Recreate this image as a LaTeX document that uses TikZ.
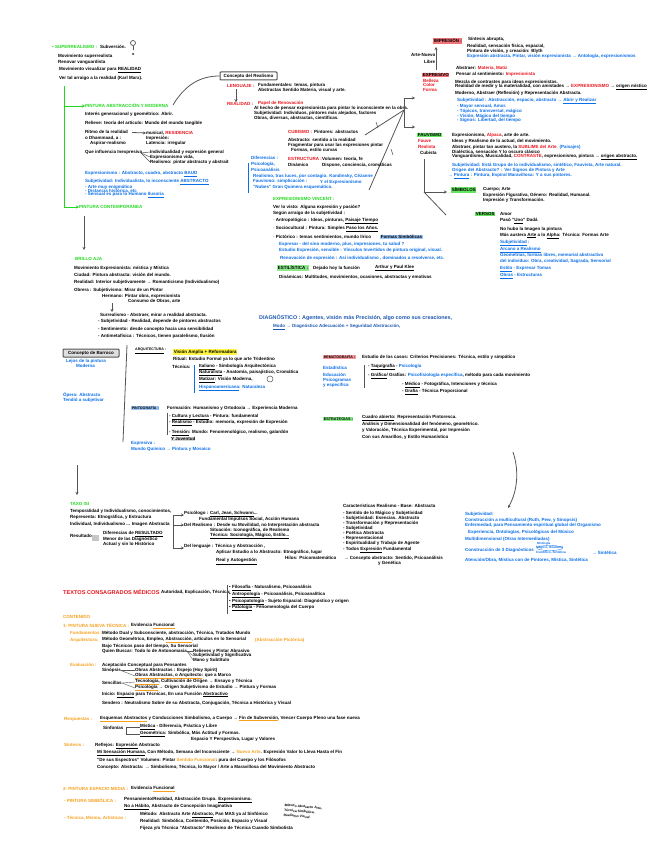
\documentclass[tikz,border=0pt]{standalone}
\usepackage{fontspec}
\setmainfont{Liberation Sans}
\usetikzlibrary{arrows.meta, shapes.geometric}
\definecolor{notered}{HTML}{E8141C}
\definecolor{noteblue}{HTML}{0A6EE6}
\definecolor{darkblue}{HTML}{1C56B0}
\definecolor{notegreen}{HTML}{22D81E}
\definecolor{noteorange}{HTML}{F6A01E}
\definecolor{notegray}{HTML}{555555}
\newcommand{\notefont}{\fontsize{4.5}{5}\selectfont\bfseries}
\newcommand{\ou}[1]{\textcolor{noteorange}{\underline{\textcolor{black}{#1}}}}
\newcommand{\rd}[1]{\textcolor{notered}{#1}}
\newcommand{\bl}[1]{\textcolor{noteblue}{#1}}
\begin{document}
\begin{tikzpicture}[x=1pt, y=-1pt, >={Stealth[length=3pt,width=3pt]},
	txt/.style={anchor=west, inner sep=0pt, font=\notefont, text=black},
	blu/.style={txt, text=noteblue},
	redt/.style={txt, text=notered},
	grn/.style={txt, text=notegreen},
	org/.style={txt, text=noteorange},
	hlgreen/.style={txt, fill=notegreen!70, inner sep=0.6pt},
	hlred/.style={txt, fill=notered!60, inner sep=0.6pt},
	hlblue/.style={txt, fill=noteblue!40, inner sep=0.6pt},
	hlyellow/.style={txt, fill=yellow!75, inner sep=0.6pt},
	titlebox/.style={draw=notegray, line width=1pt, rounded corners=0.8pt, fill=white, inner xsep=2pt, inner ysep=1.5pt, font=\notefont},
	gline/.style={draw=notegray, line width=0.8pt},
	bline/.style={draw=noteblue, line width=0.6pt},
	gbar/.style={draw=notegreen, line width=0.8pt}]
	\useasboundingbox (0,0) rectangle (656,848);

	\node[grn] (sup) at (52,47) {• SUPERREALISMO :};
	\node[txt] (subv) at (100,47) {Subversión.};
	\node[circle, draw=notegray, line width=0.7pt, inner sep=0pt, minimum size=5pt] (venus) at (133,43) {};
	\coordinate (venusb) at (133,50);
	\node[circle, fill=notegray, inner sep=0pt, minimum size=2.5pt] (venusd) at (133,54) {};
	\draw[gline] (venus) -- (venusb);
	\node[txt] (s1) at (58,56) {Movimiento superrealista};
	\node[txt] (s2) at (58,62) {Renovar vanguardista};
	\node[txt] (s3) at (59,70) {Movimiento visualizar para \underline{REALIDAD}};
	\node[txt] (s4) at (59,78) {Ver tal arraigo a la realidad (Karl Marx).};

	\coordinate (gtop) at (64,86);
	\node[grn] (pint) at (85,106) {PINTURA ABSTRACCIÓN Y MODERNA};
	\node[grn] (cont) at (79,207) {PINTURA CONTEMPORÁNEA};
	\draw[gbar, ->] (gtop) |- (pint.west);
	\draw[gbar, ->] (gtop) |- (cont.west);
	\node[txt] (p1) at (85,114) {Interés generacional y geométrico: Abrir.};
	\node[txt] (p2) at (85,123) {Relieve: teoría del artículo: Mundo del mundo tangible};
	\node[txt] (p3) at (85,132) {Ritmo de la realidad};
	\node[txt] (p3a) at (146,133) {musical, \rd{RESIDENCIA}};
	\draw[gline, ->] (p3.east) ++(4,0.5) -- (p3a.west);
	\node[txt] (p4) at (85,138) {o Dhammaad, a :};
	\node[txt] (p5) at (90,143) {Aspirar-realismo};
	\node[txt] (p4a) at (146,138) {Impresión:};
	\node[txt] (p5a) at (146,143) {Latencia: irregular};
	\node[txt] (p6) at (85,152) {Que influencia Inexpresiva};
	\node[txt] (p6a) at (150,152) {Individualidad y expresión general};
	\node[txt] (p6b) at (150,157) {Expresionismo vida,};
	\node[txt] (p6c) at (150,162) {Realismo: pintar abstracto y abstrait};
	\coordinate (pfan) at (141,153);
	\draw[gline, line width=0.5pt] (pfan) -- (p6a.west);
	\draw[gline, line width=0.5pt] (pfan) -- (p6b.west);
	\draw[gline, line width=0.5pt] (pfan) -- (p6c.west);
	\node[blu] (b1) at (85,174) {Expresionismo : Abstracto, cuadro, abstracto \underline{BAUD}};
	\node[blu] (b2) at (85,182) {Subjetividad: Individualista, lo inconsciente \underline{ABSTRACTO}};
	\node[blu] (b3) at (85,187) {- Arte muy enigmático};
	\node[blu] (b4) at (85,191) {- Distancia histórica, etc};
	\node[blu] (b5) at (85,195) {- Sensual es para lo Humano \underline{Ilusoria}};

	\coordinate (contb) at (84,216);
	\coordinate (brend) at (84,250);
	\draw[gline, ->] (contb) -- (brend);

	\node[titlebox, minimum width=57pt, minimum height=8pt] (conbox) at (248.5,76) {Concepto del Realismo};
	\coordinate (concurve) at (173,105);
	\draw[gline] (concurve) .. controls (185,85) and (200,76) .. (conbox.west);
	\node[redt] (len) at (227,86) {LENGUAJE :};
	\node[txt] (l1) at (258,85) {Fundamentales: temas, pintura};
	\node[txt] (l2) at (258,90) {Abstractas Sentido Materia, visual y arte.};
	\node[redt] (rea) at (227,104) {REALIDAD :};
	\draw[gline, ->] (len.south -| 236,0) ++(0,1) -- (rea.north -| 236,0);
	\node[redt] (rea2) at (258,103) {Papel de Renovación};
	\node[txt] (r1) at (254,108) {Al hecho de pensar expresionista para pintar lo inconsciente en la obra.};
	\node[txt] (r2) at (254,113) {Subjetividad: Individuos, pintores más alejados, factores};
	\node[txt] (r3) at (254,118) {Obras, diversas, abstractas, científicas.};

	\coordinate (hub) at (404,110);
	\coordinate (hubt) at (404,98);
	\coordinate (hubb) at (404,127);
	\coordinate (hubta) at (415,98);
	\coordinate (hubba) at (415,127);
	\coordinate (cubl) at (365,135);
	\coordinate (vanl) at (369,190);
	\draw[gline, ->] (hubb) -- (hubt) -- (hubta);
	\draw[gline, ->] (hubb) -- (hubba);
	\draw[gline] (hub) -- (cubl);
	\draw[gline] (hub) -- (vanl);
	\coordinate (tick1a) at (376,122);
	\coordinate (tick1b) at (378,128);
	\coordinate (tick2a) at (391,149);
	\coordinate (tick2b) at (393,155);
	\draw[gline, line width=0.5pt] (tick1a) -- (tick1b);
	\draw[gline, line width=0.5pt] (tick2a) -- (tick2b);

	\node[redt] (cub) at (288,132) {CUBISMO :};
	\node[txt] (c0) at (314,132) {Pintores: abstractos};
	\node[txt] (c1) at (288,140) {Abstracto: sentido a la realidad};
	\node[txt] (c2) at (288,145) {Fragmentar para usar las expresiones pintar};
	\node[txt] (c3) at (291,150) {Formas, estilo curvas};
	\node[redt] (est) at (288,159) {ESTRUCTURA :};
	\node[txt] (e0) at (322,159) {Volumen: teoría, fe};
	\node[txt] (e1) at (288,165) {Dinámico};
	\node[txt] (e2) at (322,165) {Dispone, conciencia, cromáticas};
	\node[blu] (d0) at (251,158) {Diferencias :};
	\node[blu] (d1) at (251,164) {Psicología,};
	\node[blu] (d2) at (251,170) {Psicoanálisis};
	\node[blu] (d3) at (253,176) {Realismo, tras luces, por contagio. Kandinsky, Cézanne};
	\node[blu] (d4) at (320,182) {Y el Expresionismo};
	\node[blu] (d5) at (253,181) {Fauvismo: simplicación :};
	\node[blu] (d6) at (253,187) {"Nubes" Gran Quimera esquemático.};
	\coordinate (dt) at (248,163);
	\coordinate (db) at (248,193);
	\draw[bline] (dt) -- (db);

	\node[grn] (exp) at (273,199) {EXPRESIONISMO VINCENT :};
	\node[txt] (x1) at (273,207) {Ver lo visto: Alguna expresión y pasión?};
	\node[txt] (x2) at (273,213) {Según arraigo de la subjetividad :};
	\node[txt] (x3) at (273,221) {\textcolor{notegreen}{-} Antropológico : Ideas, pinturas, \underline{Paisaje Tiempo}};
	\node[txt] (x4) at (273,229) {\textcolor{notegreen}{-} Sociocultural : Pintura: Simples \underline{Paso los Años.}};
	\node[txt] (x5) at (273,237) {\textcolor{notegreen}{-} Pictórico : temas sentimientos, mundo lírico};
	\node[hlblue] (x5a) at (380,237) {Formas Simbólicas};
	\node[blu] (x6) at (279,244) {Expresar - del sino moderno, plus, impresiones, tu salud ?};
	\node[blu] (x7) at (279,250) {Estudio Expresión, sensible : Vínculos Invertidos de pintura original, visual.};
	\node[blu] (x8) at (280,258) {Renovación de expresión : Así individualismo , dominados a resolverse, etc.};
	\node[hlgreen, fill=notegreen!50] (esti) at (277,268) {ESTILÍSTICA :};
	\node[txt] (es1) at (313,268) {Dejado hoy la función};
	\node[txt] (es2) at (375,268) {\underline{Arthur y Paul Klee}};
	\node[txt] (es3) at (279,277) {Dinámicas: Multitudes, movimientos, ocasiones, abstractas y emotivas};

	\node[hlred] (imp) at (433,41) {IMPRESIÓN :};
	\node[txt] (i1) at (468,39) {Síntesis abrupta,};
	\node[txt] (i2) at (467,46) {Realidad, sensación física, espacial,};
	\node[txt] (i3) at (467,51) {Pintura de visión, y creación: Blyth};
	\node[blu] (i4) at (467,56) {Expresión abstracta, Pintar, visión expresionista → Antología, expresionismos};
	\node[txt] (ar1) at (411,55) {Arte-Nuevo};
	\node[txt] (ar2) at (424,62) {Libre};
	\coordinate (art) at (436,47);
	\coordinate (arb) at (436,70);
	\draw[gline, ->] (arb) -- (art);

	\node[hlred] (expr) at (422,75) {EXPRESIVO};
	\node[redt] (ex1) at (423,81) {Belleza};
	\node[redt] (ex2) at (423,85) {Color};
	\node[redt] (ex3) at (423,90) {Forma};
	\node[txt] (m1) at (456,68) {Abstraer: \rd{Materia, Matiz}};
	\node[txt] (m2) at (456,74) {Pensar al sentimiento: \rd{Impresionista}};
	\node[txt] (m3) at (455,82) {Mezcla de contrastes para ideas expresionistas.};
	\node[txt] (m4) at (455,87) {Realidad de medir y la materialidad, con amistades → \rd{EXPRESIONISMO} → \underline{origen místico}};
	\node[txt] (m5) at (455,93) {Moderno, Abstraer (Reflexión) y Representación Abstracta.};
	\node[blu] (m6) at (457,101) {Subjetividad : Abstracción, espacio, abstracto → \underline{Abrir y Realizar}};
	\node[blu] (m7) at (457,106) {- Mayor sensual, Amor.};
	\node[blu] (m8) at (457,111) {- Tópicos, transversal, mágico};
	\node[blu] (m9) at (457,116) {- Visión, Mágico del tiempo};
	\node[blu] (m10) at (457,120) {- Signos: Libertad, del tiempo};

	\node[hlgreen] (post) at (417,135) {FAUVISMO};
	\node[redt] (po1) at (418,141) {Fauve};
	\node[redt] (po2) at (418,147) {Realista};
	\node[txt] (po3) at (420,153) {Cubista};
	\node[txt] (q1) at (452,135) {Expresionismo, \rd{Alpaca}, arte de arte.};
	\node[txt] (q2) at (452,141) {Ideas y Realismo de lo actual, del movimiento.};
	\node[txt] (q3) at (452,147) {Abstraer, pintar tan austero, la \rd{SUBLIME del Arte.} \bl{(Paisajes)}};
	\node[txt] (q4) at (452,152) {Dialéctica, sensación Y lo oscuro clásico};
	\node[txt] (q5) at (452,157) {Vanguardismo, Musicalidad, \rd{CONTRASTE}, expresionismo, pintura → \underline{origen abstracto.}};
	\node[blu] (q6) at (452,165) {Subjetividad: Está Grupo de lo individualismo, sintético, Fauvista, Arte natural.};
	\node[blu] (q7) at (452,170) {Origen del Abstracto? : Ver Signos de Pintura y Arte};
	\node[blu] (q8) at (448,176) {→ \underline{Pintura} : Pintura, Espiral Maravillosa: Y a sus pintores.};

	\coordinate (vt) at (424,159);
	\coordinate (vm) at (424,192);
	\node[hlgreen] (sim) at (451,190) {SÍMBOLOS};
	\node[hlgreen] (van) at (475,214) {VERSOS};
	\coordinate (vma) at (447,192);
	\coordinate (vmb) at (446,215);
	\draw[gline, ->] (vt) -- (vm) -- (vma);
	\draw[gline] (vm) -- (vmb);
	\node[txt] (si1) at (483,189) {Cuerpo; Arte};
	\node[txt] (si2) at (483,195) {Expresión Figurativa, Género: Realidad, Humanal.};
	\node[txt] (si3) at (483,200) {Impresión y Transformación.};
	\node[txt] (v1) at (500,214) {Amor};
	\node[txt] (v2) at (500,221) {Pasó "\underline{Uno}" Dadá};
	\node[txt] (v3) at (500,229) {No hubo la Imagen la pintura};
	\node[txt] (v4) at (500,236) {Más austera \underline{Arte} a lo \underline{Alpha}: Técnica: Formas Arte};
	\node[blu] (v5) at (500,243) {\underline{Subjetividad} :};
	\node[blu] (v6) at (500,250) {\underline{Arcano a Realismo}};
	\node[blu] (v7) at (500,255) {Geometrías, formas libres, memorial abstractivo};
	\node[blu] (v8) at (500,261) {del individuo: Obra, creatividad, Sagrada, Sensorial};
	\node[blu] (v9) at (500,269) {\underline{Estilo} - Expresar Tomas};
	\node[blu] (v10) at (500,276) {\underline{Obras} - Estructuras};

	\node[grn] (bri) at (75,259) {BRILLO AJA};
	\node[txt] (f1) at (74,268) {Movimiento Expresionista: mística y Mística};
	\node[txt] (f2) at (74,275) {Ciudad: Pintura abstracta: visión del mundo.};
	\node[txt] (f3) at (74,282) {Realidad: Interior subjetivamente → Romanticismo (Individualismo)};
	\node[txt] (f4) at (74,290) {Obrera : Subjetivismo: Mirar de un Pintor};
	\node[txt] (f5) at (102,296) {Hermano: Pintar obra, expresionista};
	\node[txt] (f6) at (128,301) {Consumo de Obras, arte};
	\node[txt] (f7) at (100,315) {Surrealismo - Abstraer, mirar a realidad abstracta.};
	\coordinate (farr) at (112,303);
	\coordinate (farrb) at (112,312);
	\draw[gline, ->] (farr) -- (farrb);
	\node[txt] (f8) at (98,321) {- Subjetividad - Realidad, depende de pintores abstractos};
	\node[txt] (f9) at (98,329) {- Sentimiento: desde concepto hacia una sensibilidad};
	\node[txt] (f10) at (98,336) {- Antimetafísica : Técnicos, tienen paralelismo, Ilusión};

	\node[titlebox, fill=gray!25, minimum width=56pt, minimum height=8pt] (barbox) at (91,353) {Concepto de Barroco};
	\node[blu] (bb1) at (66,361) {Lejos de la pintura};
	\node[blu] (bb2) at (76,366) {Moderna};
	\node[blu] (bb3) at (63,395) {Ópera: Abstracta};
	\node[blu] (bb4) at (63,400) {Tendió a subjetivar};
	\coordinate (barv) at (127,345);
	\coordinate (barw) at (123,442);
	\draw[gline] (barv) -- (barw);

	\node[txt, font=\fontsize{3.6}{4}\selectfont\bfseries] (arq) at (135,351) {\underline{ARQUITECTURA} :};
	\node[hlyellow] (arq1) at (173,352) {Visión Amplia + Reformadora};
	\node[txt] (a2) at (173,359) {Ritual: Estudio Formal ya lo que arte Tridentino};
	\node[txt] (a3) at (172,367) {Técnica:};
	\node[txt] (a4) at (199,367) {\underline{Italiano} - Simbología Arquitectónica};
	\node[txt] (a5) at (199,373) {\underline{Naturalista} - Anatomía, paisajístico, Cromática};
	\node[txt] (a6) at (199,380) {\underline{Matizar}: Visión Moderna,};
	\node[blu] (a7) at (199,388) {\underline{Hispanoamericana}: Naturaleza};
	\coordinate (at) at (194,365);
	\coordinate (ab) at (194,393);
	\draw[bline] (at) -- (ab);
	\node[circle, draw=notegray, line width=0.5pt, inner sep=0pt, minimum size=6pt] (acirc) at (270,379) {};

	\node[hlblue, font=\fontsize{3.6}{4}\selectfont\bfseries] (pig) at (131,408) {PINTOGRAFÍA :};
	\node[txt] (g0) at (167,408) {Formación: Humanismo y Ortodoxia → Experiencia Moderna};
	\coordinate (gt) at (167,413);
	\coordinate (gb) at (167,435);
	\draw[gline, line width=0.6pt] (gt) -- (gb);
	\node[txt] (g1) at (169,417) {- \underline{Cultura y Lectura} - Pintura: fundamental};
	\node[txt] (g2) at (169,423) {- \underline{Realismo} - Estudio: memoria, expresión de Expresión};
	\node[txt] (g3) at (169,433) {- \underline{Tensión}: Mundo: Fenomenológico, realismo, galardón};
	\node[txt, fill=gray!30] (g4) at (171,439) {Y Juventud};
	\node[blu] (g5) at (131,443) {Expresiva :};
	\node[blu] (g6) at (131,449) {Mundo Químico → Pintura y Mosaico};

	\node[txt, text=darkblue, font=\fontsize{5.4}{6}\selectfont\bfseries] (dia) at (259,318) {DIAGNÓSTICO : Agentes, visión más Precisión, algo como sus creaciones,};
	\node[txt, text=darkblue] (dia2) at (273,327) {\underline{Modo} → Diagnóstico Adecuación + Seguridad Abstracción,};

	\node[hlred, fill=notered!45, font=\fontsize{3.6}{4}\selectfont\bfseries] (hem) at (323,357) {HEMATOGRAFÍA :};
	\node[txt] (h0) at (362,357) {Estudio de los casos: Criterios Precisiones: Técnica, estilo y simpático};
	\node[blu] (h1) at (323,368) {Estadística};
	\node[blu] (h2) at (323,375) {Educación};
	\node[blu] (h3) at (323,380) {Psicogramas};
	\node[blu] (h4) at (323,385) {y específica};
	\coordinate (ht) at (364,365);
	\coordinate (hb) at (364,388);
	\draw[gline] (ht) -- (hb);
	\node[txt] (h5) at (368,367) {- \underline{Taquígrafía} - \bl{Psicología}};
	\node[txt] (h6) at (368,376) {- \underline{Gráfico}/ Grafías: \bl{Psicofisiología específica}, método para cada movimiento};
	\node[txt] (h7) at (402,385) {- \underline{Médico} - Fotográfica, Intenciones y técnica};
	\node[txt] (h8) at (402,392) {- \underline{Grafía} - Técnica Proporcional};
	\node[hlgreen, fill=notegreen!55, font=\fontsize{3.8}{4}\selectfont\bfseries] (tra) at (323,419) {ESTRATEGIAS :};
	\node[txt] (t1) at (362,418) {\underline{Cuadro abierto}: Representación Pintoresca.};
	\node[txt] (t2) at (362,424) {Análisis y Dimensionalidad del fenómeno, geométrico.};
	\node[txt] (t3) at (362,430) {y Valoración, Técnica Experimental, por Impresión};
	\node[txt] (t4) at (362,437) {Con sus Amarillos, y Estilo Humanístico};

	\coordinate (downt) at (77,465);
	\coordinate (downb) at (77,495);
	\draw[gline, ->] (downt) -- (downb);
	\node[grn] (tax) at (70,504) {TAXO ISI};
	\node[txt] (u1) at (70,511) {Temporalidad y Individualismo, conocimientos,};
	\node[txt] (u2) at (70,517) {Representa: Etnográfica, y Estructura};
	\node[txt] (u3) at (70,524) {Individual, Individualismo ... Imagen Abstracta};
	\node[txt] (u4) at (70,536) {Resultado};
	\node[fill=gray!45, inner sep=0pt, minimum size=6.5pt] (usq) at (95.5,538) {};
	\node[txt] (u5) at (103,534) {Diferencias de \underline{RESULTADO}};
	\node[txt] (u6) at (103,539) {Menor de las Diagnóstico};
	\node[txt] (u7) at (103,544) {Actual y sin lo Histórico};
	\node[txt] (w1) at (184,514) {Psicólogo : \underline{Carl, Jean, Schwann}...};
	\node[txt] (w2) at (199,519) {Fundamental Impulsos Social, Acción Humana};
	\node[txt] (w3) at (184,525) {Del Realismo : Desde su Movilidad, no Interpretación abstracta};
	\node[txt] (w4) at (210,530) {Situación: Iconográfica, de Realismo};
	\node[txt] (w5) at (210,536) {\underline{Técnica: Sociología, Mágico, Estilo...}};
	\node[txt] (w6) at (184,546) {Del lenguaje : Técnica y Abstracción ,};
	\node[txt] (w7) at (216,552) {Aplicar Estudio a lo Abstracto: Etnográfico, lugar};
	\node[txt] (w8) at (285,557.5) {Hilos: Psicomatemático};
	\node[txt] (w9) at (216,561.5) {\underline{Real y Autogestión}};
	\coordinate (wt) at (173,515);
	\coordinate (wb) at (173,548);
	\draw[gline, line width=0.6pt, ->] (wt) -- (wb) -- (wb -| w6.west);
	\draw[gline, line width=0.6pt, ->] (wt) -- (wt -| w1.west);
	\draw[gline, line width=0.6pt, ->] (wt |- w3.west) -- (w3.west);

	\node[txt] (ca0) at (343,506) {Características Realismo - Base: Abstracta};
	\node[txt] (ca1) at (343,513) {- Sentido de lo Mágico y Subjetividad};
	\node[txt] (ca2) at (343,518) {- Subjetividad: Esencias. Abstracto};
	\node[txt] (ca3) at (343,523) {- Transformación y Representación};
	\node[txt] (ca4) at (343,528) {- Subjetividad};
	\node[txt] (ca5) at (343,533) {- Poética Abstracta};
	\node[txt] (ca6) at (343,538) {- Representacional};
	\node[txt] (ca7) at (343,543) {- Espiritualidad y Trabajo de Agente};
	\node[txt] (ca8) at (343,550) {- Todos \underline{Expresión} Fundamental};
	\node[txt] (ca9) at (344,558) {→ Concepto abstracto: Sentido, Psicoanálisis};
	\node[txt] (ca10) at (378,563) {y Genética};

	\coordinate (curvet) at (513,452);
	\coordinate (curveb) at (508,508);
	\draw[gline, ->] (curvet) .. controls (519,470) and (518,490) .. (curveb);
	\node[blu] (o1) at (465,514) {Subjetividad:};
	\node[blu] (o2) at (465,520) {Construcción a multicultural (Ruth, Pew, y Sinopsis)};
	\node[blu] (o3) at (465,525.5) {Enfermedad, para Pensamiento espiritual global del Organismo};
	\node[blu] (o4) at (468,532) {Experiencia, Ontologías, Psicológicas del Músico};
	\node[blu] (o5) at (465,539) {Multidimensional (Otras Intermediadas)};
	\node[blu] (o6) at (465,550) {Construcción de 3 Diagnósticos};
	\node[blu, font=\fontsize{3}{3.5}\selectfont\bfseries] (o7) at (537,543.5) {Mitología};
	\node[blu, font=\fontsize{3.2}{4}\selectfont\bfseries] (o8) at (536,548) {Mágico, Realismo};
	\node[draw=noteblue, line width=0.3pt, ellipse, inner sep=0pt, minimum width=26pt, minimum height=5pt] (o8e) at (o8) {};
	\node[blu, font=\fontsize{3.2}{4}\selectfont\bfseries] (o9) at (536,552.5) {Científico, Sintética};
	\node[blu] (o10) at (592,553) {→ Sintética};
	\node[blu] (o11) at (465,560) {Atención/Obra, Mística con de Pintores, Mística, Sintética};

	\node[redt, font=\fontsize{5.6}{6}\selectfont\bfseries] (tex) at (63,592) {TEXTOS CONSAGRADOS MÉDICOS};
	\node[txt] (tx0) at (161,592) {Autoridad, Explicación, Técnica:};
	\coordinate (txt1) at (227,585);
	\coordinate (txb1) at (227,614);
	\draw[gline, line width=0.6pt] (txt1) -- (txb1);
	\node[txt] (tx1) at (229,588) {• \underline{Filosofía} - Naturalismo, Psicoanálisis};
	\node[txt] (tx2) at (229,595) {• \underline{Antropología} - Psicoanálisis, Psicoanalítica};
	\node[txt] (tx3) at (229,602) {• \underline{Psicopatología} - Sujeto Espacial: Diagnóstico y origen};
	\node[txt] (tx4) at (229,608) {• \underline{Patología} - Fenomenología del Cuerpo};

	\node[org] (co0) at (63,617) {CONTENIDO};
	\node[org] (co1) at (63,626) {1- PINTURA NUEVA TÉCNICA :};
	\node[txt] (co2) at (131,626) {Evidencia \ou{Funcional}};
	\node[org] (co3) at (70,633) {Fundamentos :};
	\node[txt] (co4) at (102,633) {Método Dual y Subconsciente, abstracción, Técnica, Tratados Mundo};
	\node[org] (co5) at (70,640) {Arquitectura:};
	\node[txt] (co6) at (102,640) {Método Geométrico, Empleo, \ou{Abstracción}, artículos en lo Sensorial};
	\node[org] (co7) at (255,640) {(Abstracción Pictórica)};
	\node[txt] (co8) at (102,646) {Bajo Técnicos paso del tiempo, Su Sensorial};
	\node[txt] (co9) at (102,651) {Quien Buscar: Todo lo de Antonomasia};
	\node[txt] (co10) at (193,651) {Relieves y Pintar Abrasivo};
	\node[txt] (co11) at (193,655.5) {Subjetividad y Significativa};
	\node[txt] (co12) at (193,660) {Mano y Subtítulo};
	\draw[gline, line width=0.4pt] (co9.east) -- (co10.west);
	\draw[gline, line width=0.4pt] (co9.east) -- (co11.west);
	\draw[gline, line width=0.4pt] (co9.east) -- (co12.west);
	\node[org] (ev) at (70,665) {Evaluación :};
	\node[txt] (ev1) at (102,665) {Aceptación Conceptual para Pensantes};
	\node[txt] (ev2) at (102,670.5) {Sinópsis};
	\node[txt] (ev3) at (135,670.5) {Obras Abstractas : Espejo (Hoy Spirit)};
	\node[txt] (ev4) at (135,676) {\ou{Obras Abstractas, o Arquitecto}: que a Marco};
	\draw[gline, line width=0.4pt] (ev2.east) -- (ev3.west);
	\draw[gline, line width=0.4pt] (ev2.east) -- (ev4.west);
	\node[txt] (ev5) at (102,683) {Sencillas};
	\node[txt] (ev6) at (135,682) {\ou{Tecnología}, Cultivación de Origen → Ensayo y Técnica};
	\node[txt] (ev7) at (135,688) {\ou{Psicología} → Origen Subjetivismo de Estudio → Pintura y Formas};
	\draw[gline, line width=0.4pt] (ev5.east) -- (ev6.west);
	\draw[gline, line width=0.4pt] (ev5.east) -- (ev7.west);
	\node[txt] (ev8) at (102,695) {Inicio: \underline{Espacio} para Técnicas, En una Función \underline{Abstractivo}};
	\node[txt] (ev9) at (102,703) {Sendero : Neutralismo Sobre de su Abstracta, Conjugación, Técnica a Histórica y Visual};

	\node[org] (res) at (64,719) {Respuestas :};
	\node[txt] (re1) at (100,719) {\ou{Esquemas Abstractos} y Conducciones Simbolismo, a Cuerpo → \ou{Fin de Subversión}, Vencer Cuerpo Pleno una fase nueva};
	\node[txt] (re2) at (103,728) {Sinfonías};
	\node[txt] (re3) at (140,727) {\underline{Mística} - Diferencia, Práctica y Libre};
	\node[txt] (re4) at (140,734) {\underline{Geométrica}: Simbólica, Más Actitud y Formas.};
	\node[txt] (re5) at (191,739.5) {Espacio Y Perspectiva, Lugar y Valores};
	\coordinate (ret) at (126,727);
	\coordinate (reb) at (126,734);
	\draw[gline, line width=0.5pt] (re3.west) -- (ret) -- (reb) -- (re4.west);
	\node[org] (sin) at (64,745) {Síntesis :};
	\node[txt] (si4) at (95,746) {Reflejos: \underline{Expresión} Abstracto};
	\node[txt] (si5) at (97,753) {\underline{Mi Sensación Humana}, Con Método, Semana del Inconsciente → \textcolor{noteorange}{Nuevo Arte}. Expresión Valor lo Lleva Hasta el Fin};
	\node[txt] (si6) at (97,760) {"De sus Espectros" Volumen: Pintar \textcolor{noteorange}{Sentido Funcional}: pura del Cuerpo y los Filósofos};
	\node[txt] (si7) at (97,767) {Concepto: Abstracta: → Simbolismo, Técnica, lo Mayor / Arte a Maravillosa del Movimiento Abstracto};

	\node[org] (seg) at (63,789) {2- PINTURA ESPACIO MEDIA :};
	\node[txt] (se1) at (131,789) {Evidencia \ou{Funcional}};
	\node[org] (se2) at (64,801) {- PINTURA SIMBÓLICA :};
	\node[txt] (se3) at (124,800) {Pensamiento/Realidad, Abstracción Grupo. \underline{Expresionismo.}};
	\node[txt] (se4) at (124,807) {\underline{No a Hábito}, Abstracto de Concepción Imaginativa};
	\node[org] (se5) at (64,818) {- Técnica, Mismo, Artísticas :};
	\node[txt] (se6) at (140,815) {Método: Abstracto Arte \underline{Abstracto}, Pan MAS ya al Sinfónico};
	\node[txt] (se7) at (140,821) {Realidad: Simbólica, Contenido, Posición, Espacio y Visual};
	\node[txt] (se8) at (140,828) {Fijeza y/o Técnica "Abstracto" Realismo de Técnica Cuando Simbolista};
	\node[txt, rotate=-5, align=left, font=\fontsize{3.4}{5}\selectfont\bfseries] (se9) at (284,810) {Método Abstracto Arte,\\Técnica Simbólica,\\Realismo Visual};
\end{tikzpicture}
\end{document}
